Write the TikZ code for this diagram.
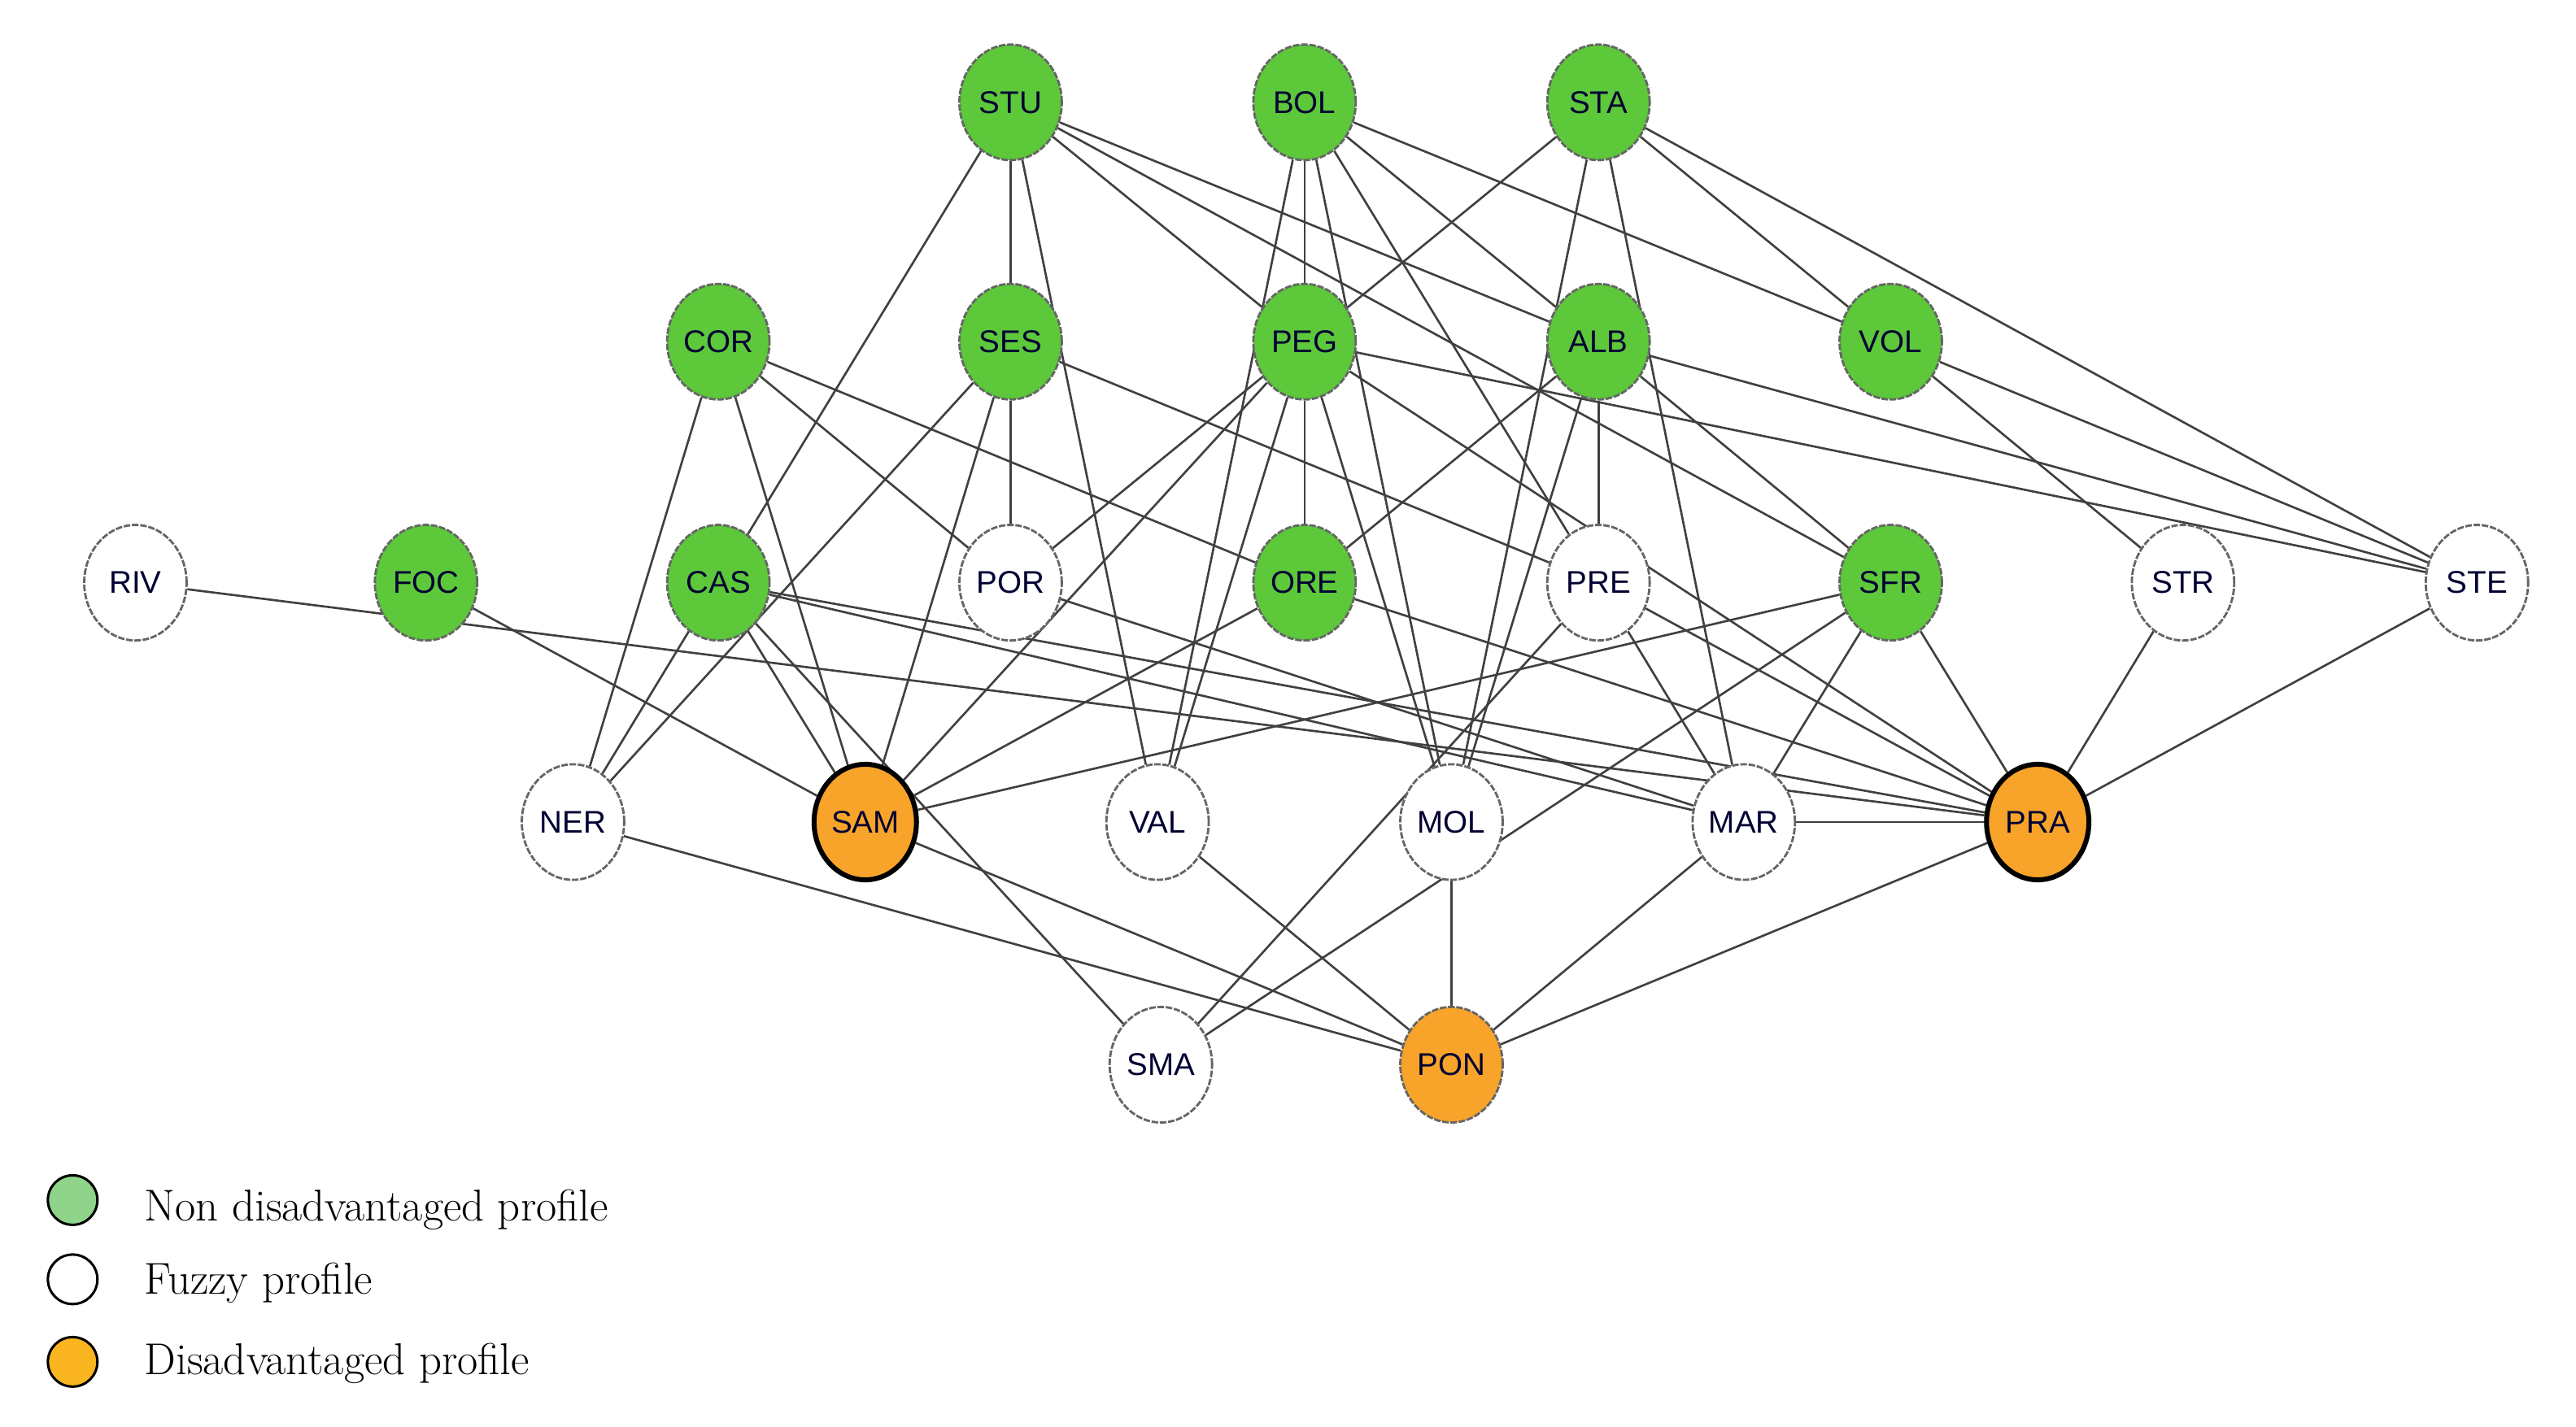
\documentclass[tikz,border=0pt]{standalone}
\usepackage{fontspec}
\newfontfamily\arialf{Liberation Sans}
\usetikzlibrary{shapes.geometric,backgrounds}
\definecolor{gn}{HTML}{5CC83A}
\definecolor{og}{HTML}{F8A42A}
\definecolor{lgn}{HTML}{8FD48A}
\definecolor{lor}{HTML}{FBB520}
\tikzset{
 nd/.style={ellipse,draw=black!60,line width=1.4pt,dash pattern=on 4pt off 1pt,minimum width=62pt,minimum height=70pt,inner sep=0pt,font=\arialf\fontsize{19}{19}\selectfont,text=black!80!blue},
 g/.style={nd,fill=gn},
 w/.style={nd,fill=white},
 o/.style={nd,fill=og,draw=black,line width=3pt,solid},
 o2/.style={nd,fill=og},
 ed/.style={draw=black!75,line width=1.3pt},
 lg/.style={circle,draw=black,line width=1.5pt,minimum size=30pt,inner sep=0pt},
 lt/.style={anchor=west,font=\fontsize{27}{27}\selectfont}
}
\begin{document}
\begin{tikzpicture}[x=1pt,y=-1pt]
\useasboundingbox (0,0) rectangle (1560,864);
\node[g] (STU) at (612,62) {STU};
\node[g] (BOL) at (790,62) {BOL};
\node[g] (STA) at (968,62) {STA};
\node[g] (COR) at (435,207) {COR};
\node[g] (SES) at (612,207) {SES};
\node[g] (PEG) at (790,207) {PEG};
\node[g] (ALB) at (968,207) {ALB};
\node[g] (VOL) at (1145,207) {VOL};
\node[w] (RIV) at (82,353) {RIV};
\node[g] (FOC) at (258,353) {FOC};
\node[g] (CAS) at (435,353) {CAS};
\node[w] (POR) at (612,353) {POR};
\node[g] (ORE) at (790,353) {ORE};
\node[w] (PRE) at (968,353) {PRE};
\node[g] (SFR) at (1145,353) {SFR};
\node[w] (STR) at (1322,353) {STR};
\node[w] (STE) at (1500,353) {STE};
\node[w] (NER) at (347,498) {NER};
\node[o] (SAM) at (524,498) {SAM};
\node[w] (VAL) at (701,498) {VAL};
\node[w] (MOL) at (879,498) {MOL};
\node[w] (MAR) at (1056,498) {MAR};
\node[o] (PRA) at (1234,498) {PRA};
\node[w] (SMA) at (703,645) {SMA};
\node[o2] (PON) at (879,645) {PON};
\begin{scope}[on background layer]
\foreach \a/\b in {STU/SES,STU/CAS,STU/VAL,STU/PEG,STU/ALB,STU/SFR,
 BOL/PEG,BOL/VAL,BOL/MOL,BOL/ALB,BOL/VOL,BOL/PRE,
 STA/POR,STA/MOL,STA/MAR,STA/VOL,STA/STE,
 COR/NER,COR/SAM,COR/POR,COR/ORE,
 SES/POR,SES/SAM,SES/NER,SES/PRE,
 PEG/ORE,PEG/SAM,PEG/VAL,PEG/MOL,PEG/PRA,PEG/STE,
 ALB/PRE,ALB/MOL,ALB/ORE,ALB/SFR,ALB/STE,
 VOL/STE,VOL/STR,
 RIV/PRA,FOC/SAM,
 CAS/NER,CAS/SAM,CAS/SMA,CAS/MAR,CAS/PRA,
 POR/MAR,ORE/SAM,ORE/PRA,
 PRE/MAR,PRE/PRA,SMA/PRE,
 SFR/SAM,SFR/SMA,SFR/MAR,SFR/PRA,
 STR/PRA,STE/PRA,MAR/PRA,
 NER/PON,SAM/PON,VAL/PON,MOL/PON,MAR/PON,PRA/PON}
 \draw[ed] (\a) -- (\b);
\end{scope}
\node[lg,fill=lgn] (L1) at (44,727) {};
\node[lg,fill=white] (L2) at (44,775) {};
\node[lg,fill=lor] (L3) at (44,825) {};
\node[lt] (T1) at (84,733) {Non disadvantaged profile};
\node[lt] (T2) at (84,777) {Fuzzy profile};
\node[lt] (T3) at (84,826) {Disadvantaged profile};
\end{tikzpicture}
\end{document}
